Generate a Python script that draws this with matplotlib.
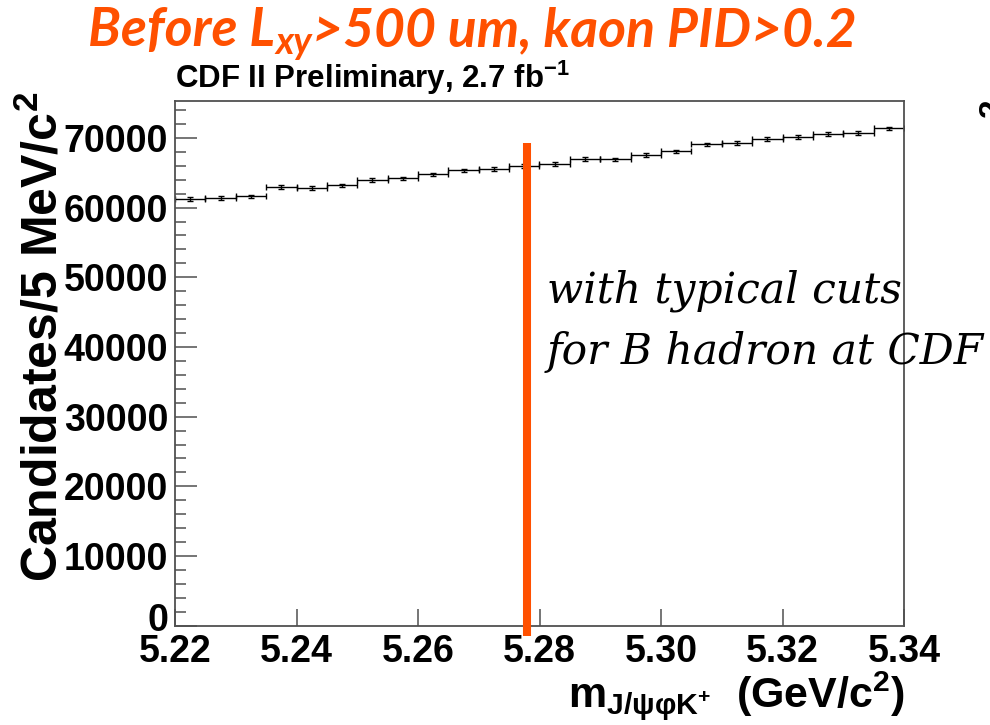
import matplotlib
matplotlib.use("Agg")
import matplotlib.pyplot as plt
import numpy as np
from matplotlib.ticker import MultipleLocator, FuncFormatter

# J/psi phi K+ mass spectrum, 5 MeV bins from 5.22 to 5.34 GeV/c^2
bin_low = 5.22
bin_high = 5.34
counts = [61260, 61410, 61610, 62940, 62840, 63190, 63950, 64190,
          64760, 65340, 65520, 65950, 66280, 66960, 66920, 67580,
          68060, 69070, 69250, 69870, 70160, 70590, 70730, 71360]

# B+ mass marker drawn over the spectrum
marker_mass = 5.2779
marker_span = [-1480, 69300]

x_ticks = [5.22, 5.24, 5.26, 5.28, 5.30, 5.32, 5.34]
x_ticklabels = ["5.22", "5.24", "5.26", "5.28", "5.30", "5.32", "5.34"]

ORANGE = "#ff5000"
FRAME = "#505050"

plt.rcParams["font.family"] = ["Liberation Sans", "DejaVu Sans"]
plt.rcParams["mathtext.fontset"] = "custom"
plt.rcParams["mathtext.rm"] = "Liberation Sans"
plt.rcParams["mathtext.bf"] = "Liberation Sans:bold"
plt.rcParams["mathtext.it"] = "Liberation Sans:italic"

W, H = 990, 725
fig = plt.figure(figsize=(W / 100, H / 100), dpi=100)
ax = fig.add_axes([175 / W, 1 - 625.7 / H, (904 - 175) / W, (625.7 - 101) / H])

counts = np.array(counts, dtype=float)
edges = np.linspace(bin_low, bin_high, len(counts) + 1)
centers = 0.5 * (edges[:-1] + edges[1:])
half_width = 0.5 * (edges[1] - edges[0])

ax.errorbar(centers, counts, xerr=half_width, yerr=np.sqrt(counts),
            fmt="none", ecolor="black", elinewidth=1.0, capsize=2.5,
            capthick=1.0)

ax.plot([marker_mass, marker_mass], marker_span, color=ORANGE, lw=5.8,
        solid_capstyle="butt", clip_on=False, zorder=5)

ax.set_xlim(bin_low, bin_high)
ax.set_ylim(0, 75300)

ax.set_xticks(x_ticks)
ax.set_xticklabels(x_ticklabels)
ax.yaxis.set_major_locator(MultipleLocator(10000))
ax.yaxis.set_minor_locator(MultipleLocator(2000))
# zero is written separately, sitting on the axis line
ax.yaxis.set_major_formatter(FuncFormatter(lambda v, p: "" if v == 0 else f"{v:.0f}"))

ax.tick_params(axis="x", which="major", direction="in", length=12,
               width=1.1, color=FRAME, pad=6, labelsize=27)
ax.tick_params(axis="y", which="major", direction="in", length=15.6,
               width=1.1, color=FRAME, pad=5, labelsize=27)
ax.tick_params(axis="y", which="minor", direction="in", length=7.7,
               width=1.1, color=FRAME)
for lab in ax.get_xticklabels() + ax.get_yticklabels():
    lab.set_fontweight("bold")

ax.annotate("0", xy=(0, 0), xycoords=ax.get_yaxis_transform(),
            xytext=(-5, -3.5), textcoords="offset points", ha="right",
            va="baseline", fontsize=27, fontweight="bold",
            annotation_clip=False)

for side in ax.spines.values():
    side.set_color(FRAME)
    side.set_linewidth(1.3)

# axis titles
fig.text(43 / W, 1 - 337 / H, r"Candidates/5 MeV/c$^{\mathbf{2}}$",
         rotation=90, ha="center", va="center", fontsize=36,
         fontweight="bold")
fig.text(905 / W, 1 - 707 / H,
         r"$\mathbf{m_{J/ψφK^{+}}}$  (GeV/c$^{\mathbf{2}}$)",
         ha="right", va="baseline", fontsize=31, fontweight="bold")

fig.text(175 / W, 1 - 88 / H, r"CDF II Preliminary, 2.7 fb$^{\mathbf{-1}}$",
         ha="left", va="baseline", fontsize=22.5, fontweight="bold")

# orange headline with subscript built from chained pieces
head = dict(color=ORANGE, fontfamily="Lato", fontstyle="italic",
            fontweight="bold")
t1 = fig.text(88 / W, 1 - 46 / H, "Before L", fontsize=38.5, va="baseline",
              **head)
t2 = ax.annotate("xy", xy=(1, 0), xycoords=t1, xytext=(0, 0.5),
                 textcoords="offset points", va="baseline", fontsize=27,
                 annotation_clip=False, **head)
ax.annotate(">500 um, kaon PID>0.2", xy=(1, 0), xycoords=(t2, t1),
            va="bottom", fontsize=38.5, annotation_clip=False, **head)

note = dict(fontfamily="DejaVu Serif", fontstyle="italic", fontsize=30.5,
            color="black")
fig.text(547 / W, 1 - 302 / H, "with typical cuts", va="baseline", **note)
fig.text(547 / W, 1 - 364 / H, "for B hadron at CDF", va="baseline", **note)

# edge of the neighbouring panel's axis title
fig.text(978 / W, 1 - 108 / H, "2", rotation=90, ha="left", va="center",
         fontsize=24, fontweight="bold")

fig.savefig("out.png", dpi=100)
plt.close(fig)
